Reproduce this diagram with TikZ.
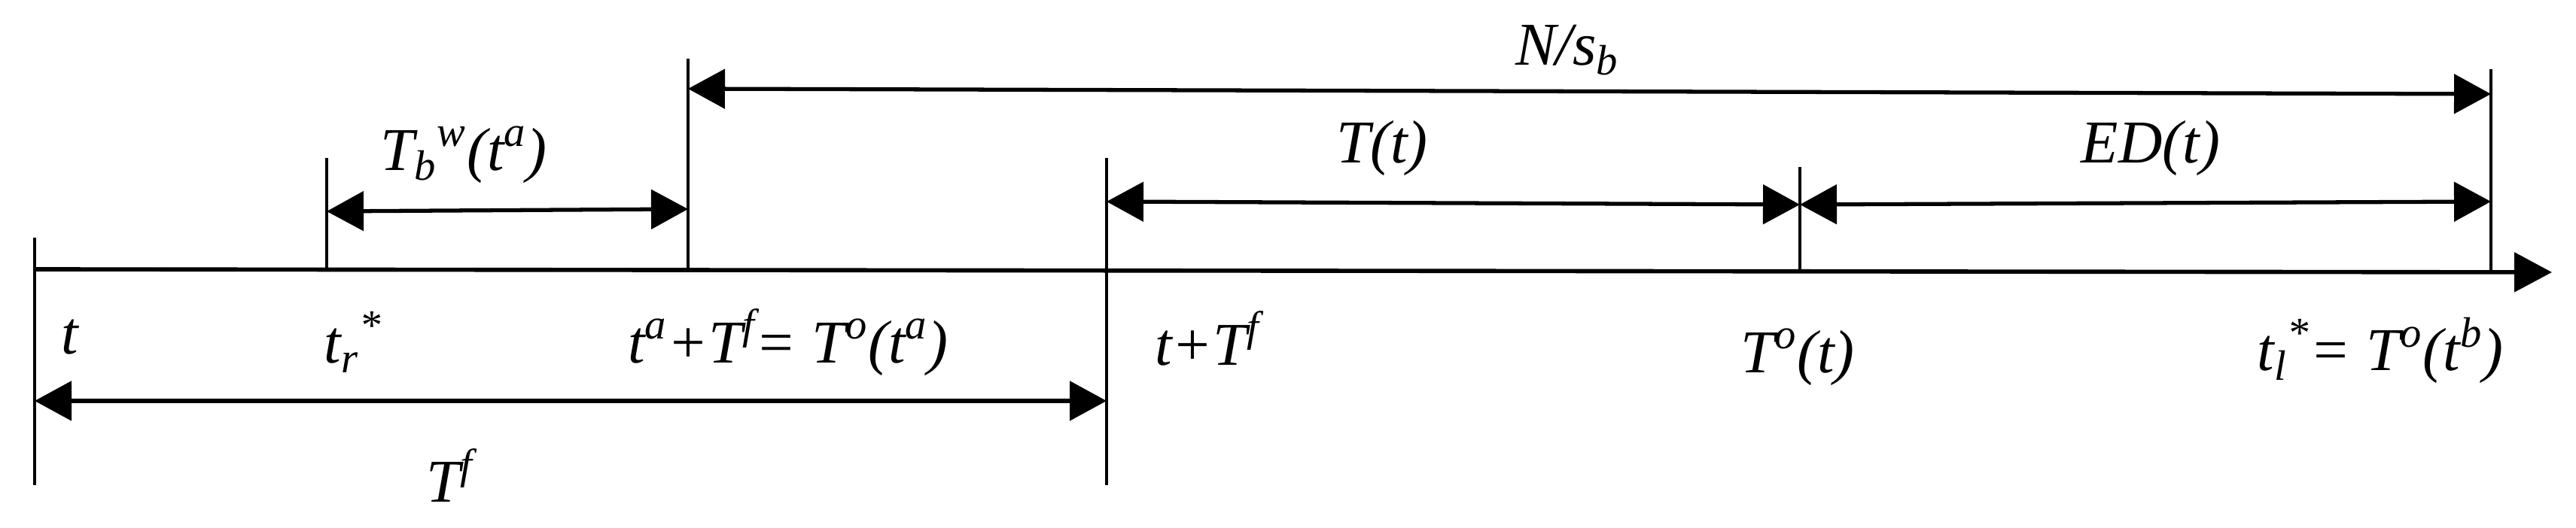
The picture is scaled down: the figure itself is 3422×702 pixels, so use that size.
\documentclass[tikz,border=0pt]{standalone}
\usepackage{fontspec}
\setmainfont{Liberation Serif}
\usetikzlibrary{arrows.meta}
\begin{document}
\begin{tikzpicture}[x=0.1mm,y=-0.1mm,
  tick/.style={line width=1.3pt},
  dim/.style={line width=1.5pt,{Triangle[length=4.9mm,width=5.2mm]}-{Triangle[length=4.9mm,width=5.2mm]}},
  lbl/.style={font=\fontsize{23}{27}\selectfont\itshape,inner sep=0pt}]
\useasboundingbox (0,0) rectangle (3422,702);
% axis
\coordinate (a0) at (46,358);
\coordinate (a1) at (3390,362);
\draw[line width=1.6pt,-{Triangle[length=5mm,width=5.2mm]}] (a0) -- (a1);
% ticks
\coordinate (t0t) at (46,316);   \coordinate (t0b) at (46,645);
\coordinate (t1t) at (434,210);  \coordinate (t1b) at (434,358);
\coordinate (t2t) at (914,78);   \coordinate (t2b) at (914,359);
\coordinate (t3t) at (1470,210); \coordinate (t3b) at (1470,645);
\coordinate (t4t) at (2391,222); \coordinate (t4b) at (2391,361);
\coordinate (t5t) at (3309,92);  \coordinate (t5b) at (3309,362);
\foreach \i in {0,...,5} \draw[tick] (t\i t) -- (t\i b);
% dimension arrows
\coordinate (n0) at (914,118);  \coordinate (n1) at (3309,125);
\draw[dim,{Triangle[length=4.9mm,width=5.2mm]}-{Triangle[length=4.9mm,width=5.2mm]}] (n0) -- (n1);
\coordinate (w0) at (434,281);  \coordinate (w1) at (914,278);
\draw[dim] (w0) -- (w1);
\coordinate (p0) at (1470,268); \coordinate (p1) at (2391,272);
\draw[dim] (p0) -- (p1);
\coordinate (q0) at (2391,272); \coordinate (q1) at (3309,268);
\draw[dim] (q0) -- (q1);
\coordinate (f0) at (46,533);   \coordinate (f1) at (1470,533);
\draw[dim] (f0) -- (f1);
% labels
\node[lbl] (lN) at (2082,67) {N/s\textsubscript{b}};
\node[lbl] (lW) at (616,206) {T\textsubscript{b}\textsuperscript{w}(t\textsuperscript{a})};
\node[lbl] (lT) at (1836,197) {T(t)};
\node[lbl] (lE) at (2857,197) {ED(t)};
\node[lbl] (l0) at (93,448) {t};
\node[lbl] (l1) at (469,455) {t\textsubscript{r}\textsuperscript{*}};
\node[lbl] (l2) at (1047,455) {t\textsuperscript{a}+T\textsuperscript{f}= T\textsuperscript{o}(t\textsuperscript{a})};
\node[lbl] (l3) at (1604,450) {t+T\textsuperscript{f}};
\node[lbl] (l4) at (2388,475) {T\textsuperscript{o}(t)};
\node[lbl] (l5) at (3162,466) {t\textsubscript{l}\textsuperscript{*}= T\textsuperscript{o}(t\textsuperscript{b})};
\node[lbl] (lF) at (598,632) {T\textsuperscript{f}};
\end{tikzpicture}
\end{document}
